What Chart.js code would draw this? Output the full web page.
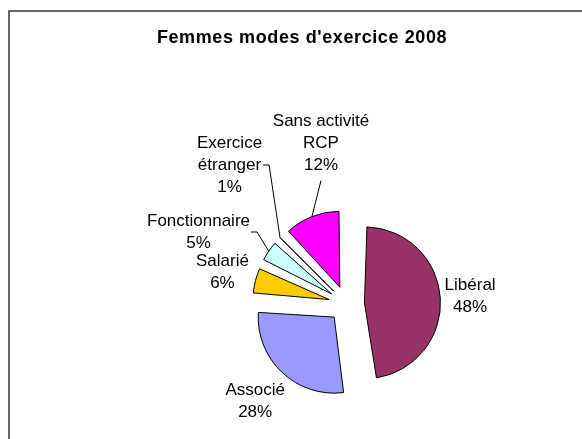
<!DOCTYPE html>
<html lang="fr">
<head>
  <meta charset="UTF-8">
  <title>Femmes modes d'exercice 2008</title>
  <script src="https://cdn.jsdelivr.net/npm/chart.js"></script>
  <style>
    html, body { margin: 0; padding: 0; background: #fff; }
    canvas { display: block; }
  </style>
</head>
<body>
  <canvas id="modesChart" width="582" height="439"></canvas>
  <script>
    // Data
    const chartTitle = "Femmes modes d'exercice 2008";
    const categories = [['Libéral'], ['Associé'], ['Salarié'], ['Fonctionnaire'], ['Exercice', 'étranger'], ['Sans activité', 'RCP']];
    const shares = [48, 28, 6, 5, 1, 12];
    const sliceColors = ['#993366', '#9999FF', '#FFCC00', '#CCFFFF', '#99CC00', '#FF00FF'];

    const FONT = "'Liberation Sans', Arial, sans-serif";
    const EXPLODE = 18;   // px every slice is pulled out of the pie
    const PIE_R = 76;
    const LINE_H = 22;

    // labels that were dragged away from their slice (offset from pie centre), they get a leader line
    const movedLabels = {
      3: { dx: -148, dy: -72 },
      4: { dx: -117, dy: -139 },
      5: { dx: -25.5, dy: -160.5 }
    };

    const excelLook = {
      id: 'excelLook',
      afterDatasetsUpdate(chart) {
        // chart.js enlarges the radius of offset slices, undo it so they all keep the same radius
        chart.getDatasetMeta(0).data.forEach(arc => {
          const fix = 1 - Math.sin(Math.min(Math.PI, arc.circumference));
          arc.outerRadius = PIE_R - EXPLODE * fix;
        });
      },
      beforeDraw(chart) {
        const ctx = chart.ctx;
        ctx.save();
        ctx.fillStyle = '#fff';
        ctx.fillRect(0, 0, chart.width, chart.height);
        // frame, only its top and left edges are inside the picture
        ctx.strokeStyle = '#333';
        ctx.lineWidth = 1.5;
        ctx.beginPath();
        ctx.moveTo(9, chart.height);
        ctx.lineTo(9, 11);
        ctx.lineTo(chart.width, 11);
        ctx.stroke();
        // title
        ctx.font = 'bold 18px ' + FONT;
        ctx.letterSpacing = '0.6px';
        ctx.fillStyle = '#000';
        ctx.textAlign = 'center';
        ctx.textBaseline = 'alphabetic';
        ctx.fillText(chartTitle, 302, 43);
        ctx.restore();
      },
      afterDatasetsDraw(chart) {
        const ctx = chart.ctx;
        const meta = chart.getDatasetMeta(0);
        const total = shares.reduce((a, b) => a + b, 0);
        ctx.save();
        ctx.font = '17px ' + FONT;
        ctx.fillStyle = '#000';
        ctx.strokeStyle = '#000';
        ctx.lineWidth = 1;
        ctx.textAlign = 'center';
        ctx.textBaseline = 'middle';
        meta.data.forEach((arc, i) => {
          const lines = categories[i].concat(Math.round(shares[i] / total * 100) + '%');
          const w = Math.max(...lines.map(t => ctx.measureText(t).width));
          const h = lines.length * LINE_H;
          const mid = (arc.startAngle + arc.endAngle) / 2;
          const ux = Math.cos(mid), uy = Math.sin(mid);
          const ax = arc.x + ux * EXPLODE, ay = arc.y + uy * EXPLODE; // tip of the pulled-out slice
          let cx, cy;
          const moved = movedLabels[i];
          if (moved) {
            cx = arc.x + moved.dx;
            cy = arc.y + moved.dy;
            const px = ax + ux * PIE_R, py = ay + uy * PIE_R;
            ctx.beginPath();
            if (px > cx - w / 2 && px < cx + w / 2) {
              ctx.moveTo(cx, cy + h / 2 + 4);
            } else {
              const side = px > cx ? 1 : -1;
              const x0 = cx + side * (w / 2 + 1);
              ctx.moveTo(x0, cy);
              ctx.lineTo(x0 + side * 6, cy);
            }
            ctx.lineTo(px, py);
            ctx.stroke();
          } else {
            // just outside the slice, along its middle angle
            const d = PIE_R + 3 + Math.abs(ux) * w / 2 + Math.abs(uy) * h / 2;
            cx = ax + ux * d;
            cy = ay + uy * d;
          }
          lines.forEach((t, k) => ctx.fillText(t, cx, cy - h / 2 + LINE_H * (k + 0.5)));
        });
        ctx.restore();
      }
    };

    new Chart(document.getElementById('modesChart'), {
      type: 'pie',
      data: {
        labels: categories,
        datasets: [{
          data: shares,
          backgroundColor: sliceColors,
          borderColor: '#000',
          borderWidth: 1,
          offset: EXPLODE * 4, // chart.js moves a slice by offset / 4
          radius: PIE_R
        }]
      },
      options: {
        responsive: false,
        animation: false,
        events: [],
        layout: { padding: { left: 151, right: 40, top: 190, bottom: 21 } },
        plugins: {
          legend: { display: false },
          tooltip: { enabled: false }
        }
      },
      plugins: [excelLook]
    });
  </script>
</body>
</html>
